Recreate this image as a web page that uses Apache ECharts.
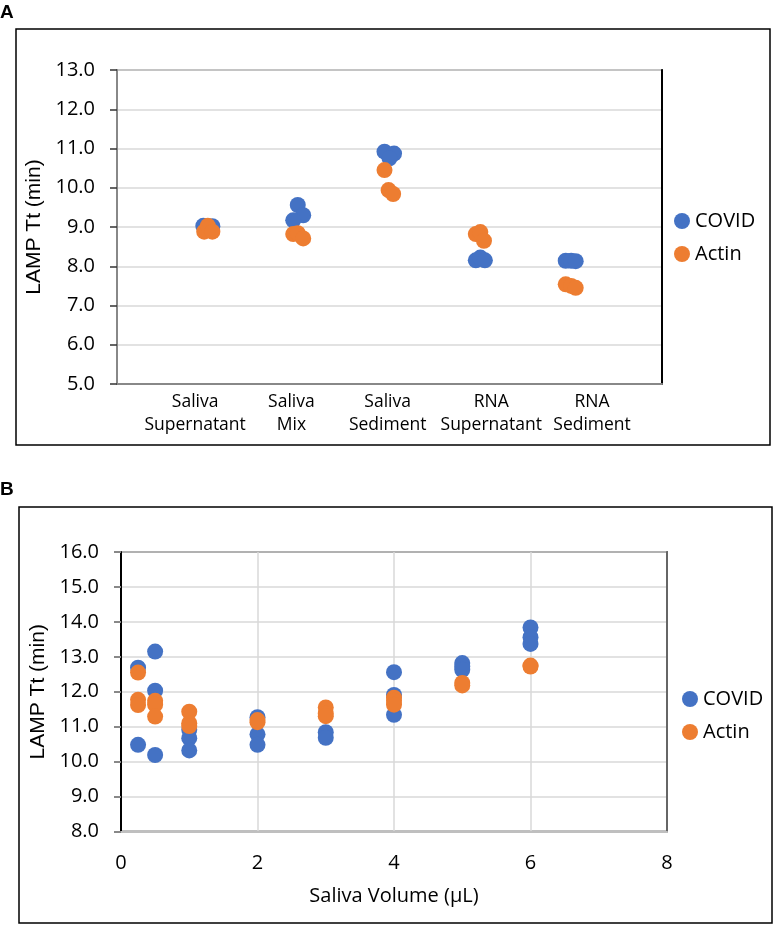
<!DOCTYPE html>
<html>
<head>
<meta charset="utf-8">
<script src="https://cdn.jsdelivr.net/npm/echarts@6/dist/echarts.min.js"></script>
<style>
html,body{margin:0;padding:0;background:#fff;}
#chart{width:774px;height:925px;}
</style>
</head>
<body>
<div id="chart"></div>
<script>
// ---------- Panel A data ----------
const categoriesA = ['Saliva\nSupernatant', 'Saliva\nMix', 'Saliva\nSediment', 'RNA\nSupernatant', 'RNA\nSediment'];
// [x (category position with jitter), LAMP Tt (min)]
const covidA = [
  [0.95, 9.03], [1.00, 8.98], [1.05, 9.02],
  [1.99, 9.56], [2.05, 9.30], [1.94, 9.17],
  [2.945, 10.92], [3.05, 10.87], [3.00, 10.75],
  [3.95, 8.15], [4.00, 8.22], [4.05, 8.15],
  [4.94, 8.14], [5.00, 8.14], [5.05, 8.13]
];
const actinA = [
  [0.96, 8.88], [1.00, 9.03], [1.05, 8.88],
  [1.94, 8.82], [1.99, 8.84], [2.05, 8.71],
  [2.945, 10.45], [2.99, 9.94], [3.04, 9.84],
  [3.95, 8.82], [4.00, 8.87], [4.04, 8.65],
  [4.94, 7.54], [5.00, 7.50], [5.05, 7.45]
];
const yTicksA = [5, 6, 7, 8, 9, 10, 11, 12, 13];

// ---------- Panel B data ----------
// [Saliva Volume (µL), LAMP Tt (min)]
const covidB = [
  [0.25, 12.69], [0.25, 10.48],
  [0.5, 13.15], [0.5, 12.03], [0.5, 10.19],
  [1, 10.91], [1, 10.67], [1, 10.32],
  [2, 11.27], [2, 10.78], [2, 10.48],
  [3, 10.84], [3, 10.68],
  [4, 12.56], [4, 11.91], [4, 11.34],
  [5, 12.82], [5, 12.72], [5, 12.63],
  [6, 13.84], [6, 13.56], [6, 13.37]
];
const actinB = [
  [0.25, 12.55], [0.25, 11.77], [0.25, 11.62],
  [0.5, 11.74], [0.5, 11.63], [0.5, 11.29],
  [1, 11.43], [1, 11.10], [1, 11.02],
  [2, 11.19], [2, 11.13],
  [3, 11.55], [3, 11.37], [3, 11.30],
  [4, 11.83], [4, 11.74], [4, 11.63],
  [5, 12.25], [5, 12.18],
  [6, 12.75], [6, 12.72]
];
const xTicksB = [0, 2, 4, 6, 8];
const yTicksB = [8, 9, 10, 11, 12, 13, 14, 15, 16];

const seriesNames = ['COVID', 'Actin'];

// ---------- layout / style ----------
const BLUE = '#4472C4', ORANGE = '#ED7D31';
const FONT = '"Open Sans", "Noto Sans", sans-serif';
const FONT_ARIAL = '"Liberation Sans", Arial, sans-serif';
const categoryLabelX = [0.86, 1.92, 2.98, 4.12, 5.23];

const chart = echarts.init(document.getElementById('chart'), null, {renderer: 'canvas'});

const fmt1 = v => Number(v).toFixed(1);

const option = {
  animation: false,
  backgroundColor: '#fff',
  textStyle: {fontFamily: FONT},
  graphic: [
    {type: 'rect', shape: {x: 16, y: 29, width: 754, height: 416}, style: {fill: 'none', stroke: '#000', lineWidth: 1.5}, z: -1},
    {type: 'rect', shape: {x: 19, y: 507, width: 753, height: 416}, style: {fill: 'none', stroke: '#000', lineWidth: 1.5}, z: -1},
    {type: 'text', left: 0, top: 3, style: {text: 'A', font: 'bold 19px ' + FONT_ARIAL, fill: '#000'}},
    {type: 'text', left: 0, top: 480, style: {text: 'B', font: 'bold 19px ' + FONT_ARIAL, fill: '#000'}}
  ],
  grid: [
    {left: 117, top: 70, width: 545, height: 314, show: true, borderColor: '#888', borderWidth: 2},
    {left: 121, top: 552, width: 546, height: 279.5, show: true, borderColor: '#000', borderWidth: 1.5}
  ],
  legend: [
    {data: seriesNames, orient: 'vertical', left: 669, top: 206, icon: 'circle', itemWidth: 16, itemHeight: 16, itemGap: 13,
     textStyle: {fontFamily: FONT, fontSize: 20, color: '#000'}, selectedMode: false},
    {data: seriesNames, orient: 'vertical', left: 677, top: 684, icon: 'circle', itemWidth: 16, itemHeight: 16, itemGap: 13,
     textStyle: {fontFamily: FONT, fontSize: 20, color: '#000'}, selectedMode: false}
  ],
  xAxis: [
    {gridIndex: 0, type: 'value', min: 0, max: 6, interval: 1,
     axisLine: {show: true, onZero: false, lineStyle: {color: '#888', width: 2}},
     axisTick: {show: false}, splitLine: {show: false},
     axisLabel: {customValues: categoryLabelX, margin: 7, fontFamily: FONT, fontSize: 17.5, color: '#000', lineHeight: 23,
                 hideOverlap: false, showMinLabel: true, showMaxLabel: true,
                 formatter: v => { const i = categoryLabelX.findIndex(c => Math.abs(c - v) < 1e-6); return i >= 0 ? categoriesA[i] : ''; }}},
    {gridIndex: 1, type: 'value', min: xTicksB[0], max: xTicksB[xTicksB.length - 1], interval: 2,
     name: 'Saliva Volume (µL)', nameLocation: 'middle', nameGap: 55,
     nameTextStyle: {fontFamily: FONT, fontSize: 20, color: '#000'},
     axisLine: {show: true, onZero: false, lineStyle: {color: '#bfbfbf', width: 2}},
     axisTick: {show: false},
     splitLine: {show: true, lineStyle: {color: '#d9d9d9', width: 1.5}},
     axisLabel: {margin: 22, fontFamily: FONT, fontSize: 20, color: '#000'}}
  ],
  yAxis: [
    {gridIndex: 0, type: 'value', min: yTicksA[0], max: yTicksA[yTicksA.length - 1], interval: 1,
     name: 'LAMP Tt (min)', nameLocation: 'middle', nameGap: 70,
     nameTextStyle: {fontFamily: FONT_ARIAL, fontSize: 21, color: '#000'},
     axisLine: {show: true, lineStyle: {color: '#888', width: 2}},
     axisTick: {show: true, inside: false, length: 7, lineStyle: {color: '#333', width: 1.5}},
     splitLine: {show: true, lineStyle: {color: '#d9d9d9', width: 1.5}},
     axisLabel: {margin: 22, fontFamily: FONT, fontSize: 20, color: '#000', formatter: fmt1}},
    {gridIndex: 0, type: 'value', position: 'right', min: yTicksA[0], max: yTicksA[yTicksA.length - 1], interval: 1,
     axisLine: {show: true, lineStyle: {color: '#000', width: 2}},
     axisTick: {show: false}, axisLabel: {show: false}, splitLine: {show: false}},
    {gridIndex: 1, type: 'value', min: yTicksB[0], max: yTicksB[yTicksB.length - 1], interval: 1,
     name: 'LAMP Tt (min)', nameLocation: 'middle', nameGap: 69,
     nameTextStyle: {fontFamily: FONT_ARIAL, fontSize: 21, color: '#000'},
     axisLine: {show: true, lineStyle: {color: '#000', width: 2}},
     axisTick: {show: true, inside: false, length: 7, lineStyle: {color: '#888', width: 2}},
     splitLine: {show: true, lineStyle: {color: '#d9d9d9', width: 1.5}},
     axisLabel: {margin: 22, fontFamily: FONT, fontSize: 20, color: '#000', formatter: fmt1}},
    {gridIndex: 1, type: 'value', position: 'right', min: yTicksB[0], max: yTicksB[yTicksB.length - 1], interval: 1,
     axisLine: {show: true, lineStyle: {color: '#666', width: 2}},
     axisTick: {show: false}, axisLabel: {show: false}, splitLine: {show: false}}
  ],
  series: [
    {name: 'COVID', type: 'scatter', xAxisIndex: 0, yAxisIndex: 0, data: covidA, symbolSize: 16, itemStyle: {color: BLUE, opacity: 1}},
    {name: 'Actin', type: 'scatter', xAxisIndex: 0, yAxisIndex: 0, data: actinA, symbolSize: 16, itemStyle: {color: ORANGE, opacity: 1}},
    {name: 'COVID', type: 'scatter', xAxisIndex: 1, yAxisIndex: 2, data: covidB, symbolSize: 16, itemStyle: {color: BLUE, opacity: 1}},
    {name: 'Actin', type: 'scatter', xAxisIndex: 1, yAxisIndex: 2, data: actinB, symbolSize: 16, itemStyle: {color: ORANGE, opacity: 1}}
  ]
};
chart.setOption(option);
</script>
</body>
</html>
